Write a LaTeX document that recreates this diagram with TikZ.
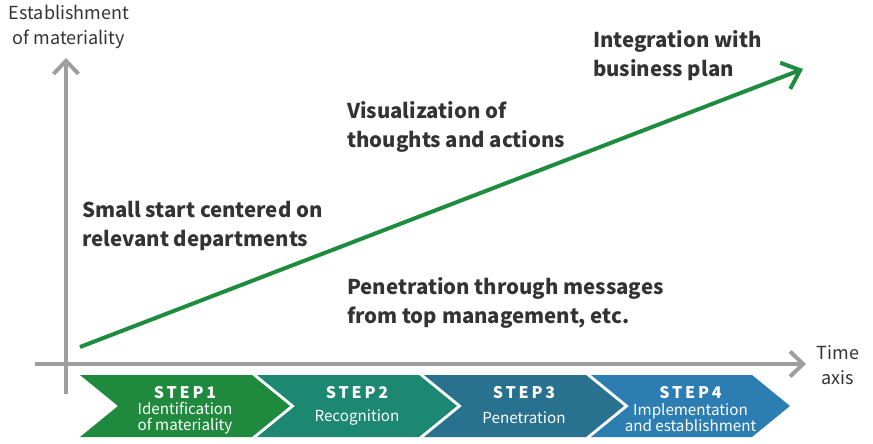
\documentclass[tikz,border=0pt]{standalone}
\usepackage{fontspec}
\setmainfont{Noto Sans CJK JP}
\usepackage{tkz-euclide}
\usetikzlibrary{arrows.meta}
\definecolor{axisgray}{HTML}{9E9EA0}
\definecolor{growgreen}{HTML}{1E8C3E}
\definecolor{txtgray}{HTML}{333333}
\definecolor{stepA}{HTML}{1F8A3D}
\definecolor{stepB}{HTML}{1D8871}
\definecolor{stepC}{HTML}{287290}
\definecolor{stepD}{HTML}{2B7DB2}
\tikzset{
  axisline/.style={draw=axisgray,line width=4pt,-{Straight Barb[length=13pt,width=25pt]}},
  growline/.style={draw=growgreen,line width=4pt,-{Straight Barb[length=16pt,width=28pt]}},
  phase/.style={text=txtgray,font=\fontsize{20.4}{29}\selectfont\bfseries,align=left,anchor=west,inner sep=0pt},
  axislabel/.style={text=txtgray,font=\fontsize{18}{24.5}\selectfont,align=center,inner sep=0pt},
  steptitle/.style={text=white,font=\fontsize{16}{18}\selectfont\bfseries\addfontfeature{LetterSpace=18},inner sep=0pt},
  stepsub/.style={text=white,font=\fontsize{15.2}{16}\selectfont,align=center,inner sep=0pt}
}
\begin{document}
\begin{tikzpicture}[x=1pt,y=-1pt]
                \useasboundingbox (0,0) rectangle (873,444);
                \tkzDefPoints{66/394/O,66/58/Y,35/364/H,806/364/X,80/347/S,803/69/E}
                \foreach \l/\r/\c/\n/\sub in {80/252/stepA/1/{Identification\\of materiality},
                    257/419/stepB/2/{Recognition},
                    424/586/stepC/3/{Penetration},
                    591/752/stepD/4/{Implementation\\and establishment}}{
                  \fill[\c] (\l,375) -- (\r,375) -- (\r+38,406) -- (\r,437) -- (\l,437) -- (\l+38,406) -- cycle;
                  \node[steptitle] (step\n) at ({(\l+\r+38)/2},393) {STEP\n};
                  \node[stepsub] (sub\n) at ({(\l+\r+38)/2},418) {\sub};
                }
                \draw[axisline] (O) -- (Y);
                \draw[axisline] (H) -- (X);
                \draw[growline] (S) -- (E);
                \node[axislabel] (ylab) at (69,27) {Establishment\\of materiality};
                \node[axislabel] (xlab) at (838,365) {Time\\axis};
                \node[phase] (small) at (82,225.5) {Small start centered on\\relevant departments};
                \node[phase] (visual) at (347,126.5) {Visualization of\\thoughts and actions};
                \node[phase] (integ) at (593,55.5) {Integration with\\business plan};
                \node[phase] (penet) at (347,303) {Penetration through messages\\from top management, etc.};
\end{tikzpicture}
\end{document}
